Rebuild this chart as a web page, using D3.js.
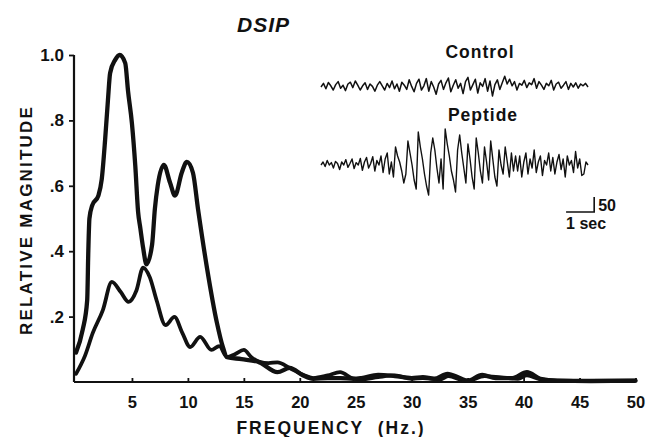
<!DOCTYPE html>
<html>
<head>
<meta charset="utf-8">
<script src="https://cdn.jsdelivr.net/npm/d3@7"></script>
<style>
  html, body { margin: 0; padding: 0; background: #fff; }
  svg { display: block; }
  text { font-family: "Liberation Sans", Arial, Helvetica, sans-serif; fill: #111; }
</style>
</head>
<body>
<svg id="chart" width="647" height="437"></svg>
<script>
// ---- Spectrum data (frequency in Hz, relative magnitude) ----
const peptideFreq = [0, 0.6, 1.0, 1.1, 1.2, 1.45, 2.0, 2.3, 2.6, 2.85, 3.05, 3.5, 3.9, 4.4, 4.65, 5.0, 5.3, 5.55, 5.75, 6.0, 6.3, 6.8, 7.05, 7.3, 7.85, 8.4, 8.85, 9.45, 9.9, 10.45, 10.9, 11.7, 12.6, 13.1, 13.5, 14.8, 16.4, 18.0, 19.1, 20.3, 21.2, 22.5, 23.6, 24.8, 25.5, 27, 28.5, 30, 31, 32, 33.2, 34.3, 35, 36.3, 37.5, 39, 40.3, 41.5, 43, 46, 50];
const peptideMag  = [0.09, 0.16, 0.25, 0.40, 0.50, 0.54, 0.57, 0.62, 0.74, 0.86, 0.945, 0.985, 1.0, 0.975, 0.89, 0.79, 0.66, 0.52, 0.47, 0.41, 0.36, 0.42, 0.53, 0.60, 0.664, 0.61, 0.57, 0.64, 0.673, 0.64, 0.53, 0.35, 0.18, 0.11, 0.076, 0.07, 0.06, 0.03, 0.043, 0.02, 0.01, 0.012, 0.012, 0.01, 0.012, 0.022, 0.018, 0.012, 0.015, 0.01, 0.025, 0.012, 0.004, 0.022, 0.012, 0.012, 0.03, 0.01, 0.004, 0.003, 0.004];

const controlFreq = [0, 0.8, 1.5, 2.4, 3.2, 4.0, 4.7, 5.4, 6.0, 6.6, 7.2, 8.0, 8.8, 9.5, 10.2, 11.1, 12.1, 12.8, 13.5, 14.2, 15.0, 15.7, 16.4, 17.2, 18.0, 19.1, 20.3, 21.2, 22.5, 23.6, 24.8, 25.5, 27, 28.5, 30, 31, 32.5, 33.3, 34.5, 35, 36.5, 38, 39.5, 40.3, 41.5, 43, 46, 50];
const controlMag  = [0.025, 0.08, 0.15, 0.22, 0.306, 0.275, 0.245, 0.28, 0.35, 0.32, 0.25, 0.174, 0.199, 0.15, 0.107, 0.138, 0.098, 0.11, 0.076, 0.085, 0.098, 0.075, 0.062, 0.058, 0.06, 0.043, 0.022, 0.012, 0.02, 0.03, 0.01, 0.008, 0.015, 0.02, 0.01, 0.012, 0.008, 0.018, 0.006, 0.004, 0.018, 0.014, 0.01, 0.02, 0.008, 0.004, 0.003, 0.004];

// ---- Axis tick labels ----
const xTicks = [5, 10, 15, 20, 25, 30, 35, 40, 45, 50];
const yTicks = [0.2, 0.4, 0.6, 0.8, 1.0];
const yTickLabels = [".2", ".4", ".6", ".8", "1.0"];

// ---- EEG sample traces (microvolts, ~9.5 s) ----
const controlEEG = [0, 12, -6, 15, 4, -10, 8, 18, -4, 6, -12, 10, 16, -2, 20, 6, -10, 4, 14, -8, 10, 2, -14, 6, 18, 4, -10, 12, -2, 20, -6, 10, -14, 16, 6, -8, 24, 2, -16, 12, 26, -10, 4, 28, -14, 18, 0, -24, 10, 22, -8, 14, 30, -16, 6, 24, -4, 12, -22, 18, 32, -10, 8, 26, -20, 14, 2, 28, -14, 20, -30, 8, 24, -8, 14, 36, 10, 26, 4, 18, -10, 12, 6, 22, -2, 14, 8, 28, -4, 18, 6, -8, 12, 4, 22, -10, 10, 16, -4, 6, 18, -8, 12, 0, 14, -4, 10, 4, 12, 0];
const peptideEEG = [0, 10, -5, 15, 0, 8, -10, 12, 5, -15, 10, 0, 18, -8, 5, 20, -12, 8, 0, 22, -18, 10, 25, -10, 5, 28, -20, 15, 0, 30, -25, 20, 40, -30, 10,
  -40, 60, 30, 10, -20, -60, -30, 80, 40, 0, -50, -80, 110, 60, 20, -30, -70, -100, 40, 90, 50, -10, -60, 20, -80, 120, 70, 30, -20, -50, -90, 50, 100, 40, -10, -60, 70, 20, -40, -80, 90, 40, -20, -60, 60, 10, -50, 80, 20, -40, -70, 50, 0, -30, 60, 10, -40, 40, -20, 30,
  -20, 30, -40, 10, 40, -30, 20, -10, 50, -25, 10, 30, -35, 15, 0, 40, -20, 25, -30, 10, 35, -15, 20, -40, 30, 0, 15, -25, 45, -10, 20, -35, -30, 10, 0];
const traceSeconds = 9.5;

const svg = d3.select("#chart");

// ---- Scales ----
const x = d3.scaleLinear().domain([0, 50]).range([76, 635.5]);
const y = d3.scaleLinear().domain([0, 1]).range([382, 55]);

// ---- Axes ----
const xAxisG = svg.append("g").attr("transform", `translate(0,${y(0)})`)
  .call(d3.axisBottom(x).tickValues(xTicks).tickSizeInner(-4).tickSizeOuter(0).tickPadding(14).tickFormat(d3.format("d")));
xAxisG.select(".domain").attr("d", `M${74},0H${x(50)}`).attr("stroke", "#111").attr("stroke-width", 2.2);
xAxisG.selectAll(".tick line").attr("stroke", "#111").attr("stroke-width", 1.8);
xAxisG.selectAll(".tick text").attr("font-size", 16.5).attr("font-weight", "bold").attr("fill", "#111")
  .attr("font-family", "Liberation Sans, Arial, sans-serif");

const yAxisG = svg.append("g").attr("transform", `translate(74,0)`)
  .call(d3.axisLeft(y).tickValues(yTicks).tickSizeInner(5).tickSizeOuter(0).tickPadding(5)
    .tickFormat((d, i) => yTickLabels[i]));
yAxisG.select(".domain").attr("d", `M0,${y(1)}V${y(0)}`).attr("stroke", "#111").attr("stroke-width", 2.2);
yAxisG.selectAll(".tick line").attr("stroke", "#111").attr("stroke-width", 1.8);
yAxisG.selectAll(".tick text").attr("font-size", 17).attr("font-weight", "bold").attr("fill", "#111")
  .attr("font-family", "Liberation Sans, Arial, sans-serif");

// ---- Spectrum curves ----
const line = d3.line().x(d => x(d[0])).y(d => y(d[1])).curve(d3.curveMonotoneX);
const peptideData = peptideFreq.map((f, i) => [f, peptideMag[i]]);
const controlData = controlFreq.map((f, i) => [f, controlMag[i]]);

svg.append("path").datum(controlData).attr("d", line)
  .attr("fill", "none").attr("stroke", "#111").attr("stroke-width", 3.8)
  .attr("stroke-linejoin", "round").attr("stroke-linecap", "round");
svg.append("path").datum(peptideData).attr("d", line)
  .attr("fill", "none").attr("stroke", "#111").attr("stroke-width", 4.3)
  .attr("stroke-linejoin", "round").attr("stroke-linecap", "round");

// ---- Titles ----
svg.append("text").attr("x", 237).attr("y", 32)
  .attr("font-size", 21).attr("font-weight", "bold").attr("font-style", "italic")
  .attr("letter-spacing", 1).text("DSIP");

svg.append("text").attr("transform", `translate(32,220) rotate(-90)`)
  .attr("text-anchor", "middle").attr("font-size", 17).attr("font-weight", "bold")
  .attr("letter-spacing", 2.2).text("RELATIVE MAGNITUDE");

svg.append("text").attr("x", 331).attr("y", 434)
  .attr("text-anchor", "middle").attr("font-size", 17.5).attr("font-weight", "bold")
  .attr("letter-spacing", 2).attr("xml:space", "preserve").text("FREQUENCY  (Hz.)");

// ---- EEG inset ----
const t = d3.scaleLinear().domain([0, traceSeconds]).range([321, 588]);
const uv = d3.scaleLinear().domain([0, 50]).range([0, -15]); // 50 µV = 15 px

svg.append("text").attr("x", 480).attr("y", 58).attr("text-anchor", "middle")
  .attr("font-size", 17.5).attr("font-weight", "bold").attr("letter-spacing", 1).text("Control");
svg.append("text").attr("x", 483).attr("y", 121).attr("text-anchor", "middle")
  .attr("font-size", 17.5).attr("font-weight", "bold").attr("letter-spacing", 1).text("Peptide");

const ctlLine = d3.line()
  .x((d, i) => t(i * traceSeconds / (controlEEG.length - 1)))
  .y(d => 87 + uv(d));
svg.append("path").datum(controlEEG).attr("d", ctlLine)
  .attr("fill", "none").attr("stroke", "#111").attr("stroke-width", 1.5).attr("stroke-linejoin", "round");

const pepLine = d3.line()
  .x((d, i) => t(i * traceSeconds / (peptideEEG.length - 1)))
  .y(d => 165 + uv(d));
svg.append("path").datum(peptideEEG).attr("d", pepLine)
  .attr("fill", "none").attr("stroke", "#111").attr("stroke-width", 1.4).attr("stroke-linejoin", "round");

// ---- Calibration bar ----
const barEnd = 9.72;
const barY = 212;
svg.append("path")
  .attr("d", `M${t(barEnd - 1)},${barY}H${t(barEnd)}V${barY + uv(50)}`)
  .attr("fill", "none").attr("stroke", "#111").attr("stroke-width", 1.6);
svg.append("text").attr("x", t(barEnd) + 4).attr("y", 211)
  .attr("font-size", 16).attr("font-weight", "bold").text("50");
svg.append("text").attr("x", t(barEnd - 1)).attr("y", 229)
  .attr("font-size", 16).attr("font-weight", "bold").text("1 sec");
</script>
</body>
</html>
